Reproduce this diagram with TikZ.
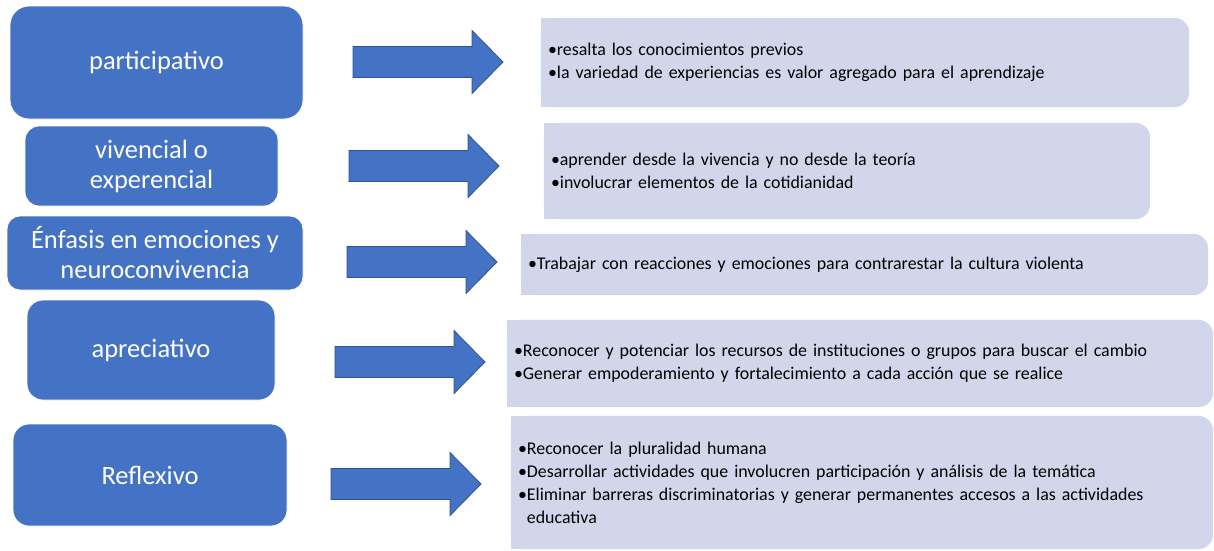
\documentclass[tikz,border=0pt]{standalone}
\usepackage{fontspec}
\setmainfont{Carlito}
\usetikzlibrary{backgrounds}
\definecolor{cblue}{HTML}{4472C4}
\definecolor{cedge}{HTML}{2F528F}
\definecolor{clight}{HTML}{D1D6EB}
\newcommand\rboxbg[1]{%
  \fill[clight,rounded corners=15pt] (#1.north west) rectangle (#1.south east);
  \fill[clight] (#1.north west) rectangle (#1.south);}
\tikzset{
  lbox/.style={fill=cblue, draw=white, line width=0.8pt, text=white, align=center,
    font=\fontsize{26.5}{30}\selectfont, inner sep=0pt},
  rbox/.style={align=left, inner xsep=7pt, inner ysep=0pt, anchor=center,
    font=\fontsize{17.9}{23}\selectfont, text=black},
  barrow/.pic={\filldraw[fill=cblue, draw=cedge, line width=0.8pt]
    (0,-15.5) -- (119,-15.5) -- (119,-31.5) -- (150,0) -- (119,31.5) -- (119,15.5) -- (0,15.5) -- cycle;}
}
\begin{document}
\begin{tikzpicture}[x=1pt,y=-1pt]
\useasboundingbox (0,0) rectangle (1214,550);
% left boxes
\node[lbox, minimum width=293pt, minimum height=113pt, rounded corners=19pt] (L1) at (156.5,62.5) {participativo};
\node[lbox, minimum width=253pt, minimum height=80pt, rounded corners=14pt] (L2) at (151.5,166) {vivencial o\\experencial};
\node[lbox, minimum width=296pt, minimum height=74pt, rounded corners=13pt] (L3) at (155,253) {Énfasis en emociones y\\neuroconvivencia};
\node[lbox, minimum width=248pt, minimum height=100pt, rounded corners=16pt] (L4) at (151,350) {apreciativo};
\node[lbox, minimum width=274pt, minimum height=102pt, rounded corners=16pt] (L5) at (150,475) {Reflexivo};
% arrows
\pic at (353,62) {barrow};
\pic at (349,166) {barrow};
\pic at (347,262) {barrow};
\pic at (335,362) {barrow};
\pic at (331,484) {barrow};
% right boxes
\node[rbox, text width=634pt, minimum height=89pt] (R1) at (865,62.5)
  {•resalta los conocimientos previos\\•la variedad de experiencias es valor agregado para el aprendizaje};
\node[rbox, text width=592pt, minimum height=96pt] (R2) at (847,171)
  {•aprender desde la vivencia y no desde la teoría\\•involucrar elementos de la cotidianidad};
\node[rbox, text width=673pt, minimum height=61pt] (R3) at (864.5,264.5)
  {•Trabajar con reacciones y emociones para contrarestar la cultura violenta};
\node[rbox, text width=692pt, minimum height=87pt] (R4) at (860,363.5)
  {•Reconocer y potenciar los recursos de instituciones o grupos para buscar el cambio\\•Generar empoderamiento y fortalecimiento a cada acción que se realice};
\node[rbox, text width=688pt, minimum height=133pt] (R5) at (862,482.5)
  {•Reconocer la pluralidad humana\\•Desarrollar actividades que involucren participación y análisis de la temática\\•Eliminar barreras discriminatorias y generar permanentes accesos a las actividades\\\hphantom{•}educativa};
\begin{scope}[on background layer]
\rboxbg{R1}\rboxbg{R2}\rboxbg{R3}\rboxbg{R4}\rboxbg{R5}
\end{scope}
\end{tikzpicture}
\end{document}
